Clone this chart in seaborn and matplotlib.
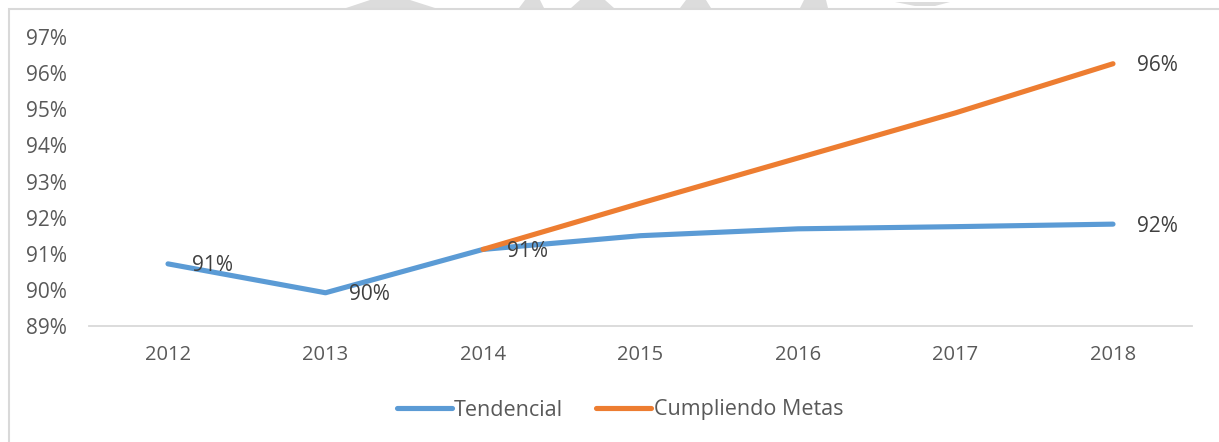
import matplotlib
matplotlib.use("Agg")
import matplotlib.pyplot as plt
from matplotlib.patches import Polygon, Rectangle
import seaborn as sns
import pandas as pd
import numpy as np

years = ["2012", "2013", "2014", "2015", "2016", "2017", "2018"]
tendencial = [90.72, 89.92, 91.12, 91.50, 91.69, 91.75, 91.82]
cumpliendo = [np.nan, np.nan, 91.12, 92.40, 93.65, 94.90, 96.26]
series_names = ["Tendencial", "Cumpliendo Metas"]
yticks = [89, 90, 91, 92, 93, 94, 95, 96, 97]
ytick_labels = ["89%", "90%", "91%", "92%", "93%", "94%", "95%", "96%", "97%"]
blue_labels = {0: "91%", 1: "90%", 2: "91%", 6: "92%"}
orange_labels = {6: "96%"}

sns.set_theme(style="white")
plt.rcParams["font.family"] = ["Open Sans", "DejaVu Sans"]

df = pd.DataFrame({
    "year": years * 2,
    "value": tendencial + cumpliendo,
    "serie": [series_names[0]] * len(years) + [series_names[1]] * len(years),
})
df = df.dropna()

W, H = 1219, 442
fig = plt.figure(figsize=(W / 100, H / 100), dpi=100)
fig.patch.set_facecolor("white")

# watermark fragments at top
wm = "#DCDCDC"
for xs in [(346, 435, 370, 410), (519, 544, 525, 540), (571, 614, 580, 605),
           (680, 711, 686, 706), (800, 828, 804, 826)]:
    x0, x1, xb0, xb1 = xs
    poly = Polygon([[x0 / W, 1 - 8 / H], [x1 / W, 1 - 8 / H], [xb1 / W, 1.0], [xb0 / W, 1.0]],
                   closed=True, transform=fig.transFigure, facecolor=wm, edgecolor="none")
    fig.patches.append(poly)
fig.patches.append(Polygon([[895 / W, 1 - 2 / H], [950 / W, 1 - 2 / H], [935 / W, 1 - 6 / H], [915 / W, 1 - 6 / H]],
                           closed=True, transform=fig.transFigure, facecolor=wm, edgecolor="none"))
# chart border
fig.patches.append(Rectangle((9 / W, -0.1), 1.2, 1 - 9 / H + 0.1, transform=fig.transFigure,
                             facecolor="none", edgecolor="#D9D9D9", linewidth=1.5))

ax = fig.add_axes([89.25 / W, 1 - 326 / H, (1191.75 - 89.25) / W, (326 - 37) / H])
ax.set_facecolor("none")

palette = {series_names[0]: "#5B9BD5", series_names[1]: "#ED7D31"}
sns.lineplot(data=df, x="year", y="value", hue="serie", palette=palette,
             linewidth=3.7, ax=ax, sort=False, legend=True, solid_capstyle="round")

ax.set_xlim(-0.5, len(years) - 0.5)
ax.set_ylim(89, 97)
ax.set_yticks(yticks)
ax.set_yticklabels(ytick_labels)
ax.set_xlabel("")
ax.set_ylabel("")
for s in ["top", "right", "left"]:
    ax.spines[s].set_visible(False)
ax.spines["bottom"].set_color("#D9D9D9")
ax.spines["bottom"].set_linewidth(1.3)
ax.tick_params(axis="both", length=0, labelsize=15, labelcolor="#595959")
ax.tick_params(axis="x", labelsize=14.5)
ax.tick_params(axis="y", pad=16)
ax.tick_params(axis="x", pad=14)

for i, t in blue_labels.items():
    ax.annotate(t, (i, tendencial[i]), xytext=(17, -1.5), textcoords="offset points",
                ha="left", va="center", fontsize=15, color="#404040")
for i, t in orange_labels.items():
    ax.annotate(t, (i, cumpliendo[i]), xytext=(17, -1.5), textcoords="offset points",
                ha="left", va="center", fontsize=15, color="#404040")

leg = ax.legend(loc="center", bbox_to_anchor=(620 / W, 1 - 410 / H), bbox_transform=fig.transFigure,
                ncol=2, frameon=False, fontsize=15.5, handlelength=2.55, handletextpad=0.1,
                columnspacing=1.55, labelcolor="#595959")
for h in leg.get_lines():
    h.set_linewidth(3.7)
    h.set_solid_capstyle("round")

fig.savefig("out.png", dpi=100, facecolor="white")
